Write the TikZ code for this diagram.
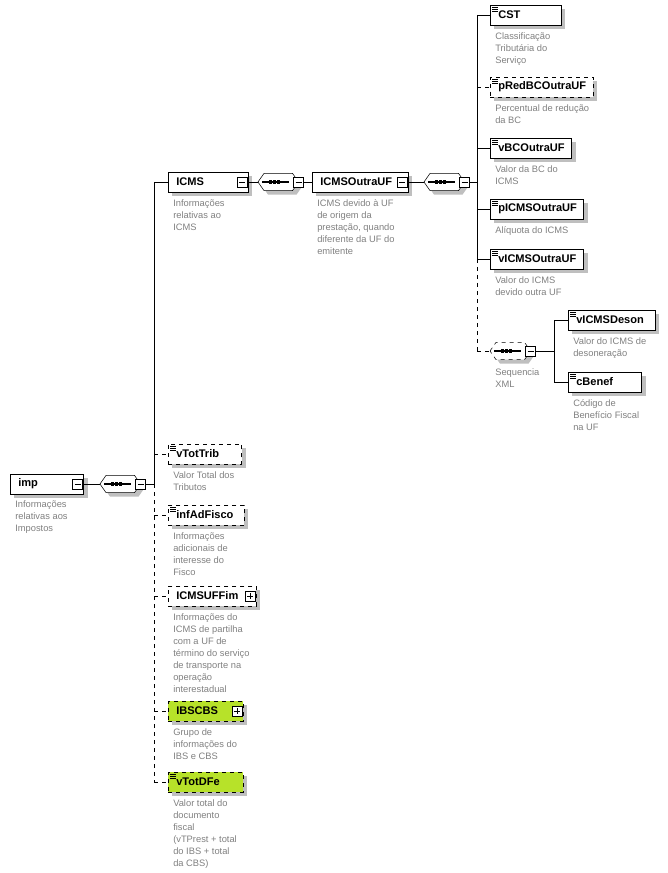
\documentclass[tikz,border=0pt]{standalone}
\usepackage{fontspec}
\setmainfont{Liberation Sans}
\usetikzlibrary{shadows}
\definecolor{descgray}{RGB}{128,128,128}
\definecolor{newgreen}{RGB}{183,226,41}
\newcommand\octagon[2][]{%
  \draw[fill=white, #1, drop shadow={shadow xshift=3pt, shadow yshift=-3pt, fill=black!25, opacity=1}]
    (#2.west) -- ([xshift=4.5pt]#2.north west) -- ([xshift=-4.5pt]#2.north east) -- (#2.east)
    -- ([xshift=-4.5pt]#2.south east) -- ([xshift=4.5pt]#2.south west) -- cycle;
  \draw[line width=0.9pt] ([xshift=3pt]#2.west) -- ([xshift=-7pt]#2.east);
  \foreach \k in {-6pt,-3pt,0pt}
    \fill ([xshift=\k-1.2pt, yshift=-1.2pt]#2.center) rectangle ++(2.4pt,2.4pt);}
\begin{document}
\begin{tikzpicture}[
    x=0.75pt,
    y=-0.75pt,
    shade/.style={drop shadow={shadow xshift=3pt, shadow yshift=-3pt, fill=black!25, opacity=1}},
    elem/.style={draw, fill=white, shade, anchor=west, minimum height=15pt,
      text width=#1, align=left, inner xsep=6pt, inner ysep=0pt,
      font=\bfseries\fontsize{8.3}{9}\selectfont},
    optional/.style={dashed},
    leaf/.style={path picture={
      \foreach \k in {1.6pt,3.1pt,4.6pt}
        \draw[solid, line width=0.5pt] ([xshift=1.5pt, yshift=-\k]path picture bounding box.north west)
          -- ++(4.5pt,0);}},
    seq/.style={anchor=west, minimum width=30pt, minimum height=12.5pt, inner sep=0pt},
    minus/.style={draw, solid, fill=white, minimum size=7.5pt, inner sep=0pt, path picture={
      \draw ([xshift=1.5pt]path picture bounding box.west) -- ([xshift=-1.5pt]path picture bounding box.east);}},
    plus/.style={minus, path picture={
      \draw ([xshift=1.5pt]path picture bounding box.west) -- ([xshift=-1.5pt]path picture bounding box.east)
            ([yshift=-1.5pt]path picture bounding box.north) -- ([yshift=1.5pt]path picture bounding box.south);}},
    desc/.style={anchor=north west, text=descgray, align=left, inner sep=0pt,
      font=\fontsize{7}{9}\selectfont}]
  \useasboundingbox (0,0) rectangle (667,873);

  % root
  \node[elem=43pt] (imp) at (10,484) {imp};
  \node[minus, anchor=east] (impM) at ([xshift=-0.8pt]imp.east) {};
  \node[desc] (impD) at (15,500) {Informações\\relativas aos\\Impostos};
  \node[seq] (seqA) at (100,484) {};
  \octagon{seqA}
  \node[minus] (seqAM) at (seqA.east) {};
  \draw (impM) -- (seqA);

  % main trunk
  \coordinate (tA) at (154,484);
  \coordinate (tAtop) at (154,182);
  \coordinate (tAbot) at (154,782);
  \draw (seqAM) -- (tA);
  \draw (tAtop) -- (tA);
  \draw[optional] (tA) -- (tAbot);

  % ICMS branch
  \node[elem=48pt] (icms) at (168,182) {ICMS};
  \node[minus, anchor=east] (icmsM) at ([xshift=-0.8pt]icms.east) {};
  \node[desc] (icmsD) at (173,199) {Informações\\relativas ao\\ICMS};
  \node[seq] (seqB) at (258,182) {};
  \octagon{seqB}
  \node[minus] (seqBM) at (seqB.east) {};
  \node[elem=60pt] (outra) at (312,182) {ICMSOutraUF};
  \node[minus, anchor=east] (outraM) at ([xshift=-0.8pt]outra.east) {};
  \node[desc] (outraD) at (317,199) {ICMS devido à UF\\de origem da\\prestação, quando\\diferente da UF do\\emitente};
  \node[seq] (seqC) at (424,182) {};
  \octagon{seqC}
  \node[minus] (seqCM) at (seqC.east) {};
  \draw (tAtop) -- (icms);
  \draw (icmsM) -- (seqB);
  \draw (seqBM) -- (outra);
  \draw (outraM) -- (seqC);

  % ICMSOutraUF trunk
  \coordinate (tB) at (477,182);
  \coordinate (tBtop) at (477,15);
  \coordinate (tBmid) at (477,259);
  \coordinate (tBbot) at (477,351);
  \draw (seqCM) -- (tB);
  \draw (tBtop) -- (tBmid);
  \draw[optional] (tBmid) -- (tBbot);

  \node[elem=41pt, leaf] (cst) at (490,15) {CST};
  \node[desc] (cstD) at (495,32) {Classificação\\Tributária do\\Serviço};
  \node[elem=65pt, leaf, optional] (pred) at (490,87) {pRedBCOutraUF};
  \node[desc] (predD) at (495,104) {Percentual de redução\\da BC};
  \node[elem=49pt, leaf] (vbc) at (490,148) {vBCOutraUF};
  \node[desc] (vbcD) at (495,165) {Valor da BC do\\ICMS};
  \node[elem=58pt, leaf] (picms) at (490,209) {pICMSOutraUF};
  \node[desc] (picmsD) at (495,226) {Alíquota do ICMS};
  \node[elem=58pt, leaf] (vicms) at (490,259) {vICMSOutraUF};
  \node[desc] (vicmsD) at (495,276) {Valor do ICMS\\devido outra UF};
  \node[seq] (seqD) at (490,351) {};
  \octagon[optional]{seqD}
  \node[minus] (seqDM) at (seqD.east) {};
  \node[desc] (seqDD) at (495,368) {Sequencia\\XML};
  \draw (tBtop) -- (cst);
  \draw[optional] (tB |- pred) -- (pred);
  \draw (tB |- vbc) -- (vbc);
  \draw (tB |- picms) -- (picms);
  \draw (tBmid) -- (vicms);
  \draw[optional] (tBbot) -- (seqD);

  % sequence trunk
  \coordinate (tC) at (554,351);
  \coordinate (tCtop) at (554,320);
  \coordinate (tCbot) at (554,382);
  \draw (seqDM) -- (tC);
  \draw (tCtop) -- (tCbot);
  \node[elem=53pt, leaf] (deson) at (568,320) {vICMSDeson};
  \node[desc] (desonD) at (573,337) {Valor do ICMS de\\desoneração};
  \node[elem=43pt, leaf] (cbenef) at (568,382) {cBenef};
  \node[desc] (cbenefD) at (573,399) {Código de\\Benefício Fiscal\\na UF};
  \draw (tCtop) -- (deson);
  \draw (tCbot) -- (cbenef);

  % remaining children of imp
  \node[elem=43pt, leaf, optional] (vtot) at (168,454) {vTotTrib};
  \node[desc] (vtotD) at (173,471) {Valor Total dos\\Tributos};
  \node[elem=45pt, leaf, optional] (infad) at (168,515) {infAdFisco};
  \node[desc] (infadD) at (173,532) {Informações\\adicionais de\\interesse do\\Fisco};
  \node[elem=54pt, optional] (ufim) at (168,596) {ICMSUFFim};
  \node[plus, anchor=east] (ufimP) at ([xshift=-0.8pt]ufim.east) {};
  \node[desc] (ufimD) at (173,613) {Informações do\\ICMS de partilha\\com a UF de\\término do serviço\\de transporte na\\operação\\interestadual};
  \node[elem=44pt, optional, fill=newgreen] (ibs) at (168,711) {IBSCBS};
  \node[plus, anchor=east] (ibsP) at ([xshift=-0.8pt]ibs.east) {};
  \node[desc] (ibsD) at (173,728) {Grupo de\\informações do\\IBS e CBS};
  \node[elem=44pt, leaf, optional, fill=newgreen] (vdfe) at (168,782) {vTotDFe};
  \node[desc] (vdfeD) at (173,799) {Valor total do\\documento\\fiscal\\(vTPrest + total\\do IBS + total\\da CBS)};
  \draw[optional] (tA |- vtot) -- (vtot);
  \draw[optional] (tA |- infad) -- (infad);
  \draw[optional] (tA |- ufim) -- (ufim);
  \draw[optional] (tA |- ibs) -- (ibs);
  \draw[optional] (tAbot) -- (vdfe);
\end{tikzpicture}
\end{document}
